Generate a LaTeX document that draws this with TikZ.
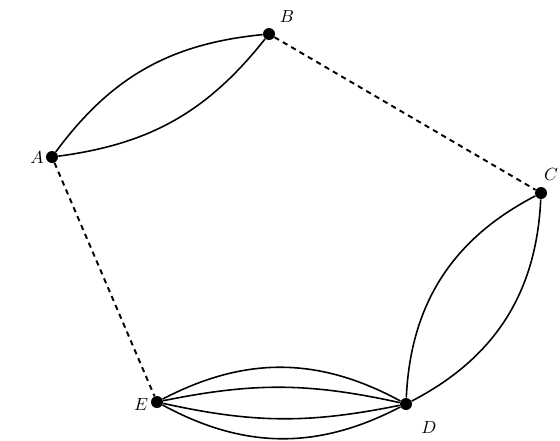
\documentclass[tikz,border=0pt]{standalone}
\usepackage{amsmath, amssymb}
\usepackage{xcolor}
\usepackage{tikz}
\usetikzlibrary{arrows.meta, positioning, calc}

\begin{document}
\begin{tikzpicture}[x=0.02cm, y=-0.02cm, font=\normalsize,
    vertex/.style={circle, fill=black, inner sep=0pt, minimum size=0.24cm},
    tie/.style={line width=0.9pt},
    gap/.style={line width=1.1pt, dash pattern=on 3pt off 2.5pt}]
  \useasboundingbox (0,0) rectangle (560,440);
  % vertices
  \node[vertex] (A) at (52,157) {};
  \node[vertex] (B) at (269,34) {};
  \node[vertex] (C) at (541,193) {};
  \node[vertex] (D) at (406,404) {};
  \node[vertex] (E) at (157,402) {};
  % labels
  \node (lA) at (37,157) {$A$};
  \node (lB) at (287,16) {$B$};
  \node (lC) at (551,174) {$C$};
  \node (lD) at (429,427) {$D$};
  \node (lE) at (141,404) {$E$};
  % dashed links
  \draw[gap] (B) -- (C);
  \draw[gap] (A) -- (E);
  % multiple edges
  \draw[tie] (A) to[bend left=24] (B);
  \draw[tie] (A) to[bend right=22] (B);
  \draw[tie] (D) to[bend left=30] (C);
  \draw[tie] (D) to[bend right=30] (C);
  \draw[tie] (E) to[bend left=28] (D);
  \draw[tie] (E) to[bend left=12] (D);
  \draw[tie] (E) to[bend right=12] (D);
  \draw[tie] (E) to[bend right=28] (D);
\end{tikzpicture}
\end{document}
